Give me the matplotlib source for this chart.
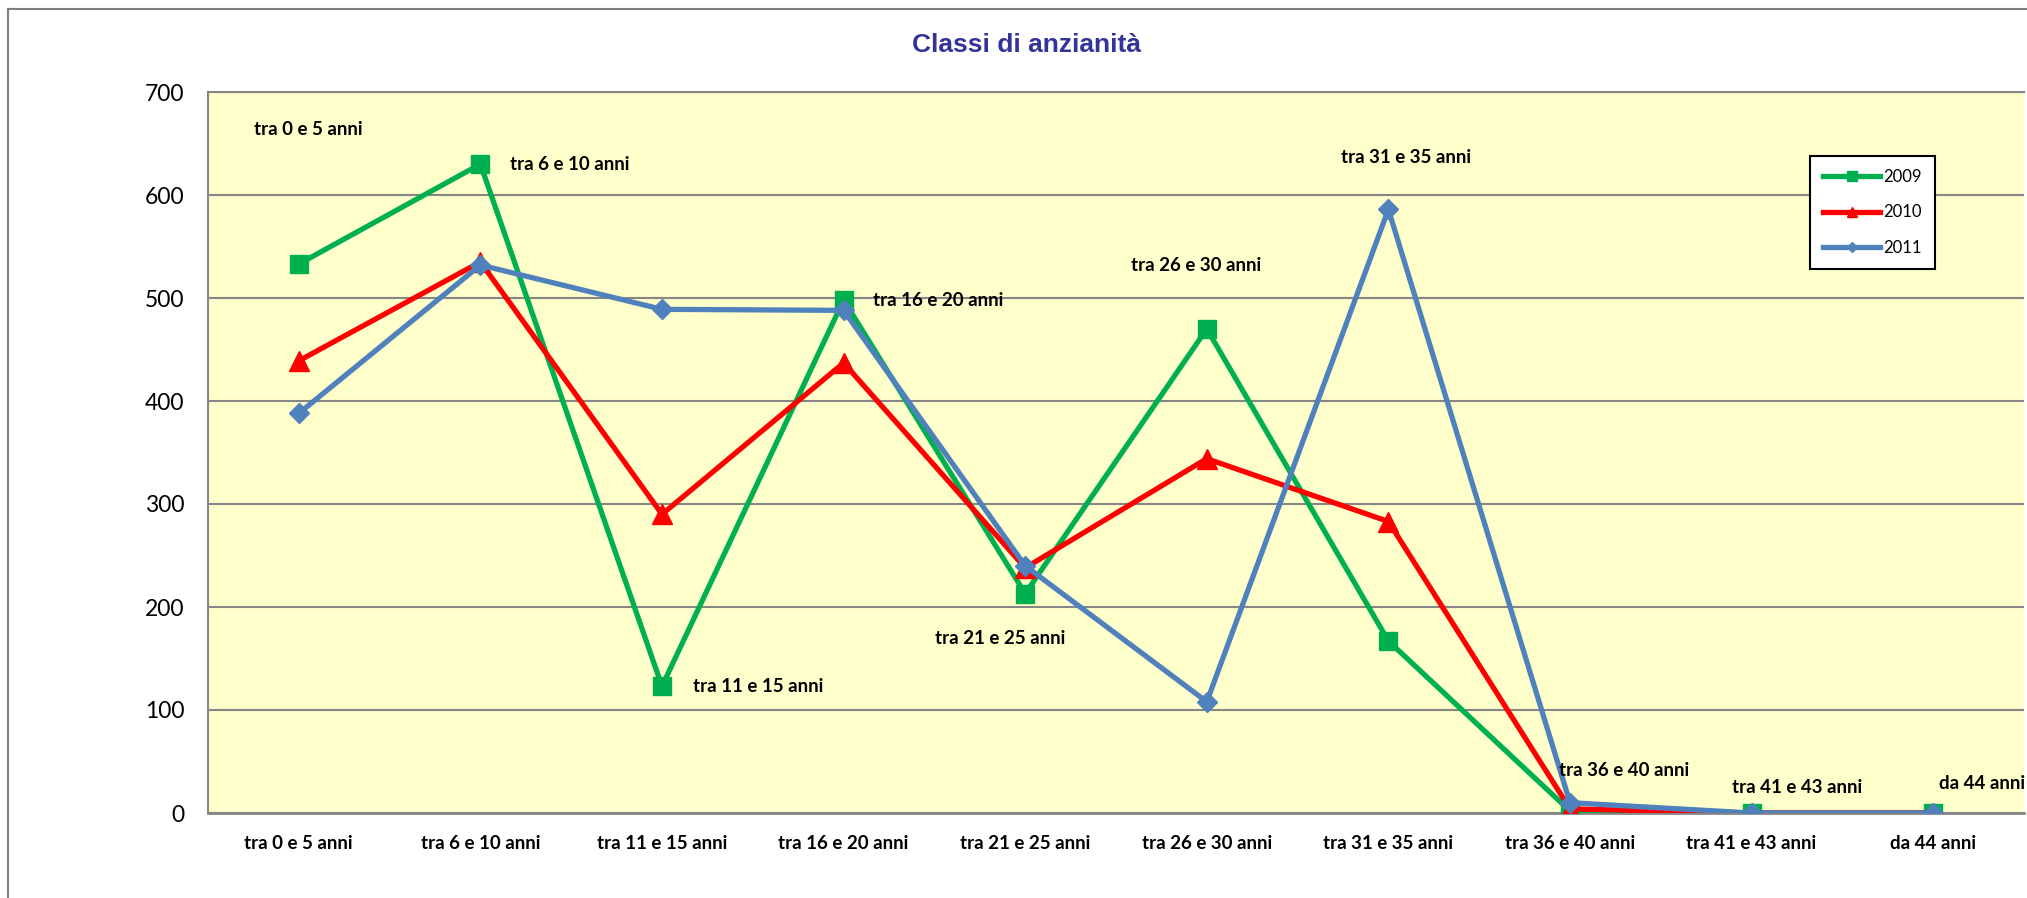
import matplotlib
matplotlib.use("Agg")
import matplotlib.pyplot as plt
from matplotlib.lines import Line2D

# classi di anzianita' e numero di dipendenti per anno
categorie = ['tra 0 e 5 anni', 'tra 6 e 10 anni', 'tra 11 e 15 anni', 'tra 16 e 20 anni',
             'tra 21 e 25 anni', 'tra 26 e 30 anni', 'tra 31 e 35 anni', 'tra 36 e 40 anni',
             'tra 41 e 43 anni', 'da 44 anni']
val_2009 = [533, 630, 123, 498, 213, 470, 167, 2, 0, 0]
val_2010 = [439, 535, 290, 437, 238, 344, 283, 4, 0, 0]
val_2011 = [388, 532, 489, 488, 240, 108, 586, 10, 0, 0]
anni = ['2009', '2010', '2011']

# posizioni (categoria, valore) delle etichette spostate a mano
label_pos = [(0.05, 664), (1.49, 630), (2.53, 123), (3.52, 498), (3.86, 169),
             (4.94, 532), (6.10, 636), (7.30, 41), (8.25, 25), (9.27, 29)]

W, H = 2027, 898
fig = plt.figure(figsize=(W / 100, H / 100), dpi=100)
fig.patch.set_facecolor('white')

# cornice esterna del grafico
fig.add_artist(Line2D([7.6 / W, 7.6 / W], [0, 1 - 9 / H], color='#7f7f7f', lw=1.5))
fig.add_artist(Line2D([7.6 / W, 1], [1 - 9 / H, 1 - 9 / H], color='#7f7f7f', lw=1.5))

ax = fig.add_axes([208 / W, (H - 813) / H, (2024 - 208) / W, (813 - 92) / H])
ax.set_facecolor('#FFFFCC')

x = list(range(len(categorie)))
ax.plot(x, val_2009, color='#00B050', lw=3.8, marker='s', ms=13.5, label=anni[0], zorder=3)
ax.plot(x, val_2010, color='#FF0000', lw=3.8, marker='^', ms=14, label=anni[1], zorder=4)
ax.plot(x, val_2011, color='#4F81BD', lw=3.8, marker='D', ms=10, label=anni[2], zorder=5)

ax.set_xlim(-0.5, 9.5)
ax.set_ylim(0, 700)
ax.set_yticks(range(0, 701, 100))
ax.set_xticks(x)
ax.set_xticklabels(categorie, fontfamily='Lato', fontweight='bold', fontsize=13.5)
for t in ax.get_yticklabels():
    t.set_fontfamily('Lato')
    t.set_fontsize(16.5)
ax.tick_params(axis='both', length=0)
ax.tick_params(axis='y', pad=17)
ax.tick_params(axis='x', pad=15.5)
ax.grid(axis='y', color='#868686', lw=1.5)
ax.set_axisbelow(True)
for s in ax.spines.values():
    s.set_color('#868686')
    s.set_linewidth(1.5)
ax.spines['right'].set_visible(False)
ax.spines['bottom'].set_linewidth(2)

for nome, (px, py) in zip(categorie, label_pos):
    ax.text(px, py, nome, ha='center', va='center', fontfamily='Lato',
            fontweight='bold', fontsize=13.5, zorder=6, clip_on=False)

fig.text(1027 / W, 1 - 45 / H, 'Classi di anzianità', ha='center', va='center',
         fontfamily='Liberation Sans', fontweight='bold', fontsize=19, color='#333399')

leg = ax.legend(loc='upper left', bbox_to_anchor=(1810 / W, 1 - 156 / H),
                bbox_transform=fig.transFigure, borderaxespad=0,
                prop={'family': 'Lato', 'size': 12}, handlelength=3.4,
                labelspacing=1.15, markerscale=0.55, fancybox=False,
                framealpha=1, edgecolor='black', borderpad=0.8, handletextpad=0.2)
leg.get_frame().set_linewidth(1.5)

fig.savefig('out.png', dpi=100)
